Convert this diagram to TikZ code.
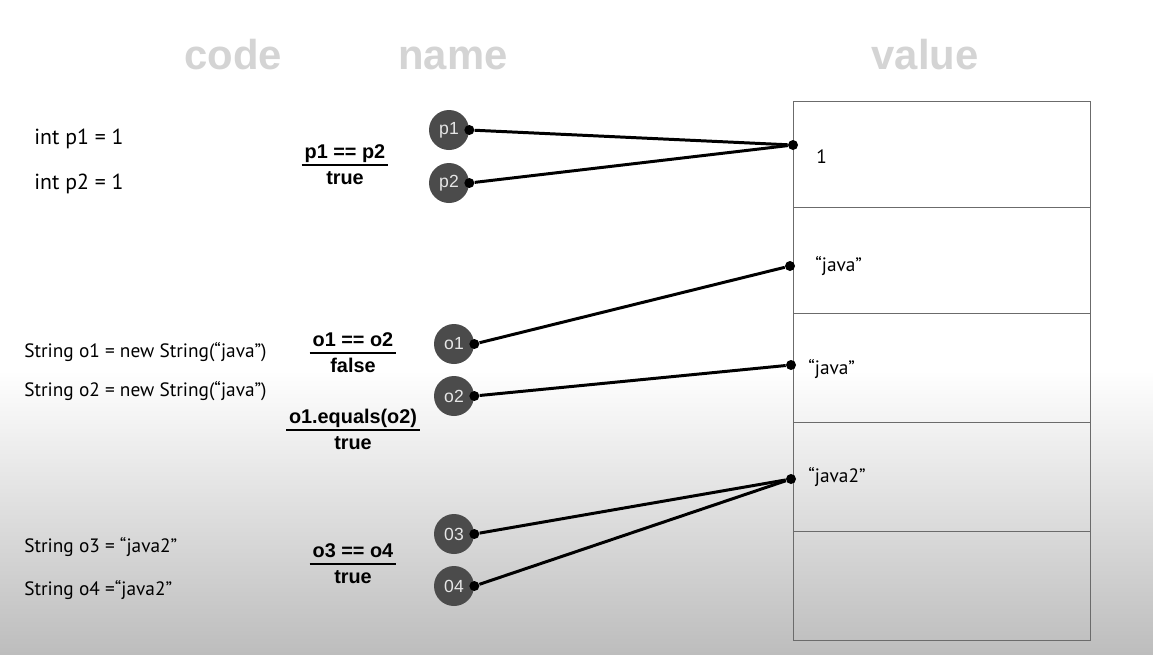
\documentclass[tikz,border=0pt]{standalone}
\usepackage{fontspec}
\setmainfont{PT Sans}
\newfontfamily\headfont{Liberation Sans}
\usetikzlibrary{positioning,calc}
\definecolor{cHead}{HTML}{d4d4d4}
\definecolor{cVar}{HTML}{4b4b4b}
\definecolor{cVarText}{HTML}{e6e6e6}
\definecolor{cCell}{HTML}{6b6b6b}
\definecolor{cBg}{HTML}{bdbdbd}
\tikzset{
  head/.style={anchor=base,inner sep=0pt,text=cHead,font=\headfont\bfseries\fontsize{23.8}{28}\selectfont},
  code/.style={anchor=base west,inner sep=0pt,font=\fontsize{11}{13}\selectfont},
  cmp/.style={anchor=base,inner sep=0pt,font=\headfont\bfseries\fontsize{11.3}{13}\selectfont},
  bar/.style={line width=0.9pt},
  var/.style={circle,fill=cVar,minimum size=0.8cm,inner sep=0pt,text=cVarText,font=\headfont\fontsize{10}{11}\selectfont},
  dot/.style={circle,fill=black,minimum size=0.2cm,inner sep=0pt},
  link/.style={line width=1.7pt},
  cell/.style={draw=cCell,line width=0.8pt,minimum width=5.94cm,inner sep=0pt,anchor=north west},
  val/.style={anchor=base west,inner sep=0pt,font=\fontsize{11}{13}\selectfont},
}

\begin{document}
\begin{tikzpicture}[x=0.02cm,y=-0.02cm]
\useasboundingbox (0,0) rectangle (1153,654);
% background fades to grey towards the bottom
\fill[white] (0,0) rectangle (1153,370);
\shade[top color=white,bottom color=cBg] (0,370) rectangle (1153,654);

% column titles
\node[head] (hcode) at (233,69) {code};
\node[head] (hname) at (453,69) {name};
\node[head] (hval) at (925,69) {value};

% code lines
\node[code,font=\fontsize{12.4}{14}\selectfont] (l1) at (34,144) {int p1 = 1};
\node[code,font=\fontsize{12.4}{14}\selectfont] (l2) at (34,189) {int p2 = 1};
\node[code] (l3) at (24,357) {String o1 = new String(“java”)};
\node[code] (l4) at (24,396) {String o2 = new String(“java”)};
\node[code] (l5) at (24,552) {String o3 = “java2”};
\node[code] (l6) at (24,595) {String o4 =“java2”};

% comparisons
\foreach \nm/\x/\y/\a/\b in {cp/345/165/p1 == p2/true,
                              co/353/353/o1 == o2/false,
                              ce/353/430/o1.equals(o2)/true,
                              cq/353/564/o3 == o4/true}{
  \node[cmp] (\nm) at (\x,\y-7) {\a};
  \node[cmp] (\nm r) at (\x,\y+19) {\b};
  \draw[bar] ([xshift=-1.5pt,yshift=-4pt]\nm.base west) -- ([xshift=1.5pt,yshift=-4pt]\nm.base east);
}

% memory cells
\foreach \n/\top/\h in {1/101/2.12,2/207/2.12,3/313/2.18,4/422/2.18,5/531/2.18}
  \node[cell,minimum height=\h cm] (cell\n) at (793,\top) {};
\node[val] (t1) at (816,163) {1};
\node[val] (t2) at (815,271) {“java”};
\node[val] (t3) at (808,374) {“java”};
\node[val] (t4) at (808,482) {“java2”};

% variables
\node[var] (p1) at (449,130) {p1};
\node[var] (p2) at (449,183) {p2};
\node[var] (o1) at (454,344) {o1};
\node[var] (o2) at (454,396) {o2};
\node[var] (o3) at (454,534) {03};
\node[var] (o4) at (454,586) {04};
\foreach \v in {p1,p2,o1,o2,o3,o4}
  \node[dot] (\v d) at (\v.east) {};

% references
\node[dot] (v1) at (793,145) {};
\node[dot] (v2) at (790,266) {};
\node[dot] (v3) at (791,365) {};
\node[dot] (v4) at (791,479) {};
\draw[link] (p1d) -- (v1);
\draw[link] (p2d) -- (v1);
\draw[link] (o1d) -- (v2);
\draw[link] (o2d) -- (v3);
\draw[link] (o3d) -- (v4);
\draw[link] (o4d) -- (v4);
\end{tikzpicture}
\end{document}
